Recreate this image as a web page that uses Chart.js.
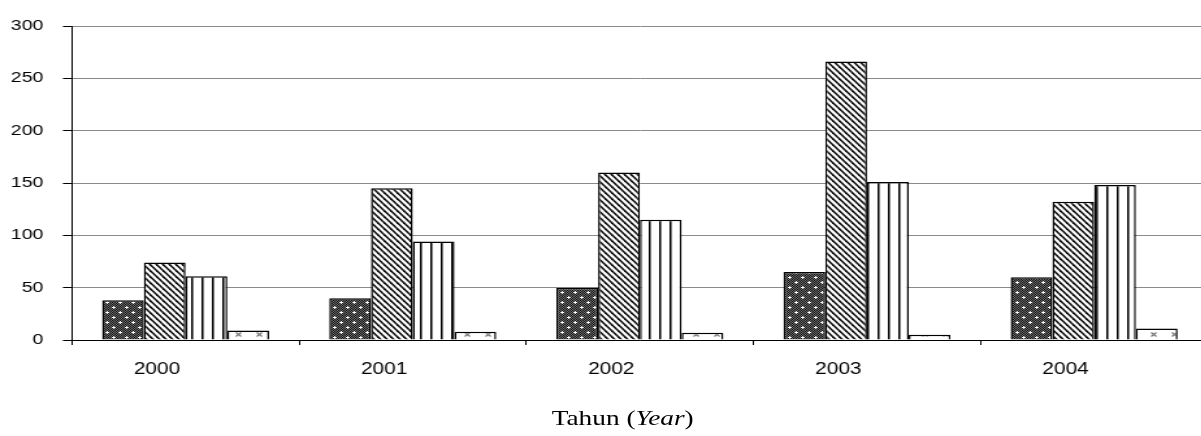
<!DOCTYPE html>
<html>
<head>
<meta charset="utf-8">
<script src="https://cdn.jsdelivr.net/npm/chart.js@4"></script>
<style>
  body { margin: 0; background: #fff; overflow: hidden; }
  /* the reference is stretched sideways, so the whole chart is drawn narrow and scaled */
  #wrap { position: relative; width: 929px; height: 436px; transform: scaleX(1.3); transform-origin: 0 0; }
  #title { position: absolute; left: 479px; top: 408px; transform: translateX(-50%);
           font: 21px/21px "Liberation Serif", serif; color: #000; white-space: nowrap; }
</style>
</head>
<body>
<div id="wrap">
  <canvas id="c" width="929" height="436"></canvas>
  <div id="title">Tahun (<i>Year</i>)</div>
</div>
<script>
// data
const years = ['2000', '2001', '2002', '2003', '2004'];
const seriesA = [38, 40, 50, 65, 60];
const seriesB = [74, 145, 160, 266, 132];
const seriesC = [61, 94, 115, 151, 148];
const seriesD = [9, 8, 7, 5, 11];
const yTicks = [0, 50, 100, 150, 200, 250, 300];

const ctx = document.getElementById('c').getContext('2d');

function makePattern(w, h, draw) {
    const c = document.createElement('canvas');
    c.width = w; c.height = h;
    const g = c.getContext('2d');
    g.fillStyle = '#fff';
    g.fillRect(0, 0, w, h);
    draw(g, w, h);
    return ctx.createPattern(c, 'repeat');
}

// dark dotted fill
const dotted = makePattern(10, 10, function(g, w, h) {
    g.fillStyle = '#707070';
    g.fillRect(0, 0, w, h);
    g.fillStyle = '#111';
    for (let x = 0; x < w; x++)
        for (let y = 0; y < h; y++)
            if ((x + y) % 2 == 0) g.fillRect(x, y, 1, 1);
    g.fillStyle = '#fff';
    g.fillRect(1, 2, 3, 1); g.fillRect(2, 1, 1, 3);
    g.fillRect(6, 7, 3, 1); g.fillRect(7, 6, 1, 3);
});

// downward diagonal stripes
const diagonal = makePattern(5, 6, function(g, w, h) {
    g.strokeStyle = '#111';
    g.lineWidth = 1.6;
    for (let k = -1; k <= 1; k++) {
        g.beginPath();
        g.moveTo(k * w - w, -h);
        g.lineTo(k * w + 2 * w, 2 * h);
        g.stroke();
    }
});

// vertical stripes
const vertical = makePattern(8, 2, function(g, w, h) {
    g.fillStyle = '#777';
    g.fillRect(4, 0, 1, h);
    g.fillStyle = '#000';
    g.fillRect(3, 0, 1, h);
});

// light little crosses
const crosses = makePattern(16, 10, function(g, w, h) {
    g.strokeStyle = '#777';
    g.lineWidth = 1.2;
    g.beginPath();
    g.moveTo(5.5, 2.5); g.lineTo(9.5, 6.5);
    g.moveTo(9.5, 2.5); g.lineTo(5.5, 6.5);
    g.stroke();
});

function bars(values, fill) {
    return {
        data: values,
        backgroundColor: fill,
        borderColor: '#000',
        borderWidth: 1.5,
        categoryPercentage: 0.735,
        barPercentage: 1.0
    };
}

const yFont = { family: '"Liberation Sans", Arial, sans-serif', size: 15 };
const xFont = { family: '"Liberation Sans", Arial, sans-serif', size: 16 };

new Chart(ctx, {
    type: 'bar',
    data: {
        labels: years,
        datasets: [
            bars(seriesA, dotted),
            bars(seriesB, diagonal),
            bars(seriesC, vertical),
            bars(seriesD, crosses)
        ]
    },
    options: {
        responsive: false,
        animation: false,
        layout: { padding: { top: 26, left: 0, right: 0, bottom: 0 } },
        plugins: { legend: { display: false }, tooltip: { enabled: false } },
        scales: {
            x: {
                grid: { drawOnChartArea: false, offset: true, tickLength: 5, color: '#000' },
                border: { color: '#000', width: 1 },
                ticks: { font: xFont, color: '#000', labelOffset: -22, padding: 15, maxRotation: 0 },
                afterFit: function(s) { s.height = 96; }
            },
            y: {
                min: 0,
                max: 300,
                afterBuildTicks: function(s) { s.ticks = yTicks.map(v => ({ value: v })); },
                grid: { color: '#8a8a8a', tickColor: '#000', tickLength: 7 },
                border: { color: '#000', width: 1 },
                ticks: { font: yFont, color: '#000', padding: 15 },
                afterFit: function(s) { s.width = 55.4; }
            }
        }
    }
});
</script>
</body>
</html>
